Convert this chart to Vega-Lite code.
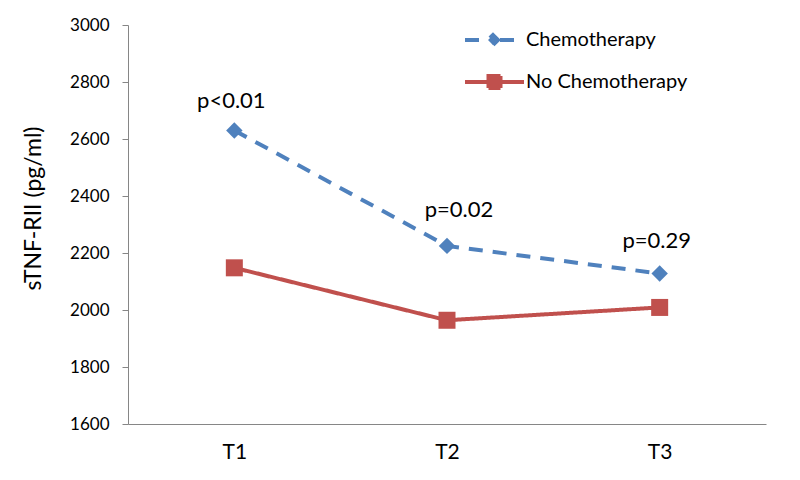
{
  "$schema": "https://vega.github.io/schema/vega-lite/v6.json",
  "autosize": {"type": "none"},
  "width": 638,
  "height": 399,
  "padding": {"left": 128, "top": 25, "right": 34, "bottom": 56},
  "background": "white",
  "config": {
    "view": {"stroke": null},
    "font": "Lato",
    "text": {"font": "Lato"}
  },
  "datasets": {
    "series": [
      {"time": "T1", "group": "Chemotherapy", "value": 2630},
      {"time": "T2", "group": "Chemotherapy", "value": 2225},
      {"time": "T3", "group": "Chemotherapy", "value": 2128},
      {"time": "T1", "group": "No Chemotherapy", "value": 2148},
      {"time": "T2", "group": "No Chemotherapy", "value": 1964},
      {"time": "T3", "group": "No Chemotherapy", "value": 2009}
    ],
    "notesA": [
      {"time": "T1", "label": "p<0.01", "value": 2710},
      {"time": "T3", "label": "p=0.29", "value": 2216}
    ],
    "notesB": [
      {"time": "T2", "label": "p=0.02", "value": 2325}
    ]
  },
  "data": {"name": "series"},
  "encoding": {
    "x": {
      "field": "time",
      "type": "nominal",
      "scale": {"domain": ["T1", "T2", "T3"], "paddingInner": 0, "paddingOuter": 0},
      "axis": {
        "title": null,
        "labelAngle": 0,
        "ticks": false,
        "domainColor": "#868686",
        "domainWidth": 1,
        "labelFontSize": 21,
        "labelColor": "#000000",
        "labelPadding": 17,
        "labelFont": "Lato"
      }
    },
    "y": {
      "field": "value",
      "type": "quantitative",
      "scale": {"domain": [1600, 3000], "nice": false, "zero": false},
      "axis": {
        "title": "sTNF-RII (pg/ml)",
        "format": "d",
        "values": [1600, 1800, 2000, 2200, 2400, 2600, 2800, 3000],
        "grid": false,
        "domainColor": "#868686",
        "tickColor": "#868686",
        "tickSize": 6,
        "labelFontSize": 17,
        "labelColor": "#000000",
        "labelPadding": 13,
        "labelFont": "Lato",
        "titleFont": "Lato",
        "titleFontSize": 23,
        "titleFontWeight": "normal",
        "titleColor": "#000000",
        "titleAngle": -90,
        "titleAlign": "center",
        "titleBaseline": "middle",
        "titleX": -95,
        "titleY": 183
      }
    }
  },
  "layer": [
    {
      "mark": {"type": "line", "strokeWidth": 4},
      "encoding": {
        "color": {
          "field": "group",
          "type": "nominal",
          "scale": {"domain": ["Chemotherapy", "No Chemotherapy"], "range": ["#4F81BD", "#C0504D"]},
          "legend": {
            "title": null,
            "orient": "none",
            "legendX": 350,
            "legendY": 3,
            "padding": 0,
            "symbolSize": 400,
            "symbolStrokeWidth": 4,
            "labelFontSize": 20,
            "labelFont": "Lato",
            "labelColor": "#000000",
            "labelOffset": 24,
            "labelLimit": 400,
            "rowPadding": 15,
            "encode": {
              "symbols": {
                "update": {
                  "shape": {"signal": "datum.value === 'Chemotherapy' ? 'M-2.5,0L-0.9,0M1.0,0L2.5,0M0.3,-0.5L0.8,0L0.3,0.5L-0.2,0Z' : 'M-2.5,0L3.4,0M-0.15,-0.6L1.05,-0.6L1.05,0.6L-0.15,0.6Z'"},
                  "fill": {"signal": "datum.value === 'Chemotherapy' ? '#4F81BD' : '#C0504D'"},
                  "stroke": {"signal": "datum.value === 'Chemotherapy' ? '#4F81BD' : '#C0504D'"},
                  "strokeWidth": {"value": 4},
                  "strokeDash": {"value": []},
                  "opacity": {"value": 1}
                }
              }
            }
          }
        },
        "strokeDash": {
          "field": "group",
          "type": "nominal",
          "scale": {"domain": ["Chemotherapy", "No Chemotherapy"], "range": [[14, 10], [1, 0]]},
          "legend": null
        }
      }
    },
    {
      "transform": [{"filter": "datum.group === 'Chemotherapy'"}],
      "mark": {"type": "point", "filled": true, "opacity": 1, "strokeWidth": 0, "shape": "diamond", "size": 270},
      "encoding": {
        "color": {"field": "group", "type": "nominal"}
      }
    },
    {
      "transform": [{"filter": "datum.group === 'No Chemotherapy'"}],
      "mark": {"type": "point", "filled": true, "opacity": 1, "strokeWidth": 0, "shape": "square", "size": 289},
      "encoding": {
        "color": {"field": "group", "type": "nominal"}
      }
    },
    {
      "data": {"name": "notesA"},
      "mark": {"type": "text", "fontSize": 22, "font": "Lato", "color": "#000000", "baseline": "alphabetic", "align": "center", "dx": -3},
      "encoding": {"text": {"field": "label"}}
    },
    {
      "data": {"name": "notesB"},
      "mark": {"type": "text", "fontSize": 22, "font": "Lato", "color": "#000000", "baseline": "alphabetic", "align": "center", "dx": 12},
      "encoding": {"text": {"field": "label"}}
    }
  ]
}
